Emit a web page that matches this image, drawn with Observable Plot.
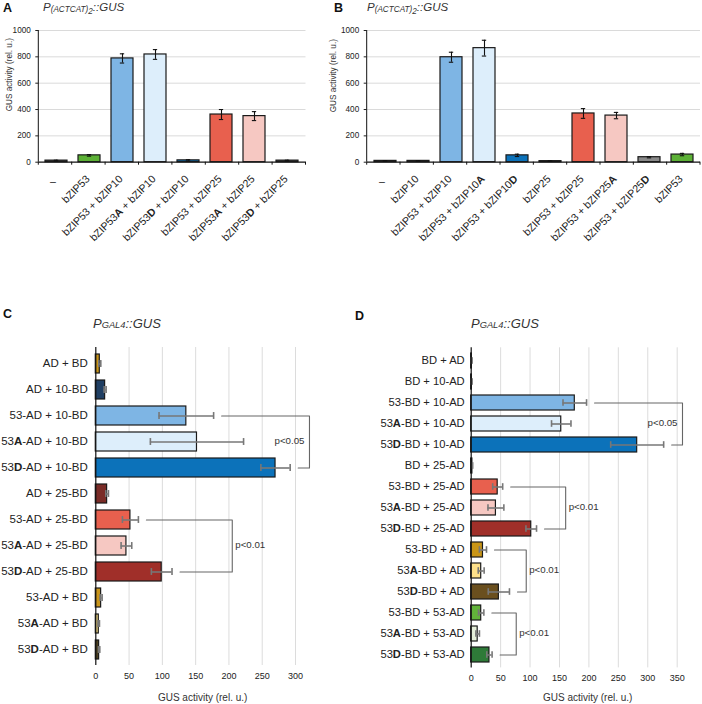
<!DOCTYPE html>
<html>
<head>
<meta charset="utf-8">
<script src="https://cdn.jsdelivr.net/npm/d3@7"></script>
<script src="https://cdn.jsdelivr.net/npm/@observablehq/plot@0.6"></script>
<style>
  html, body { margin: 0; padding: 0; background: #fff; }
  #fig { position: relative; width: 702px; height: 704px; overflow: hidden; font-family: "Liberation Sans", Arial, Helvetica, sans-serif; color: #222; }
  .panel { position: absolute; }
  .letter { position: absolute; font-weight: bold; font-size: 12.5px; line-height: 12.5px; color: #111; }
  .title { position: absolute; font-style: italic; white-space: nowrap; color: #333; }
  .t1 { font-size: 11.5px; line-height: 11.5px; }
  .t1 .s1 { font-size: 8.2px; position: relative; top: 0.5px; }
  .t1 .s2 { font-size: 8.2px; position: relative; top: 2.5px; }
  .t2 { font-size: 13px; line-height: 13px; }
  .t2 .s1 { font-size: 9.3px; }
</style>
</head>
<body>
<div id="fig"></div>
<script>
const FONT = '"Liberation Sans", Arial, Helvetica, sans-serif';

// ---------- Panel A ----------
const catsA = ["–", "bZIP53", "bZIP53 + bZIP10", "bZIP53A + bZIP10", "bZIP53D + bZIP10", "bZIP53 + bZIP25", "bZIP53A + bZIP25", "bZIP53D + bZIP25"];
const valsA = [12, 52, 788, 818, 14, 362, 350, 12];
const errsA = [3, 6, 35, 37, 5, 38, 34, 3];
const fillsA = ["#3a3a3a", "#5cb136", "#7eb5e4", "#ddeefb", "#0c72ba", "#e8604e", "#f6c8c2", "#3a3a3a"];

// ---------- Panel B ----------
const catsB = ["–", "bZIP10", "bZIP53 + bZIP10", "bZIP53 + bZIP10A", "bZIP53 + bZIP10D", "bZIP25", "bZIP53 + bZIP25", "bZIP53 + bZIP25A", "bZIP53 + bZIP25D", "bZIP53"];
const valsB = [10, 10, 797, 866, 52, 8, 370, 354, 38, 58];
const errsB = [2, 2, 38, 60, 9, 2, 37, 24, 5, 9];
const fillsB = ["#3a3a3a", "#3a3a3a", "#7eb5e4", "#ddeefb", "#0c72ba", "#3a3a3a", "#e8604e", "#f6c8c2", "#8a8a8a", "#5cb136"];

const ticksAB = [0, 200, 400, 600, 800, 1000];

// ---------- Panel C ----------
const catsC = ["AD + BD", "AD + 10-BD", "53-AD + 10-BD", "53A-AD + 10-BD", "53D-AD + 10-BD", "AD + 25-BD", "53-AD + 25-BD", "53A-AD + 25-BD", "53D-AD + 25-BD", "53-AD + BD", "53A-AD + BD", "53D-AD + BD"];
const valsC = [6, 14, 136, 152, 270, 17, 52, 46, 99, 8, 4.5, 5];
const errsC = [1.5, 1.5, 41, 70, 22, 2, 12, 8, 15.5, 1.5, 1, 1];
const fillsC = ["#c9951b", "#203f63", "#7eb5e4", "#ddeefb", "#0c72ba", "#7a2c27", "#e8604e", "#f6c8c2", "#a02f29", "#c9951b", "#f4da85", "#4e4121"];
const ticksC = [0, 50, 100, 150, 200, 250, 300];
const bracketsC = [
  { from: "53-AD + 10-BD", to: "53D-AD + 10-BD", x: 321, label: "p<0.05" },
  { from: "53-AD + 25-BD", to: "53D-AD + 25-BD", x: 205, label: "p<0.01" }
];

// ---------- Panel D ----------
const catsD = ["BD + AD", "BD + 10-AD", "53-BD + 10-AD", "53A-BD + 10-AD", "53D-BD + 10-AD", "BD + 25-AD", "53-BD + 25-AD", "53A-BD + 25-AD", "53D-BD + 25-AD", "53-BD + AD", "53A-BD + AD", "53D-BD + AD", "53-BD + 53-AD", "53A-BD + 53-AD", "53D-BD + 53-AD"];
const valsD = [1, 1, 176, 153, 282, 2, 45, 42, 102, 20, 17, 47, 17, 11, 31];
const errsD = [0.5, 0.5, 20, 16.5, 45, 0.5, 8.5, 13.5, 9, 6, 5, 18, 4.5, 3, 4.5];
const fillsD = ["#333333", "#333333", "#7eb5e4", "#ddeefb", "#0c72ba", "#333333", "#e8604e", "#f6c8c2", "#a02f29", "#c99516", "#fde08a", "#6a4f1e", "#62b43a", "#e5efd9", "#2e7a38"];
const ticksD = [0, 50, 100, 150, 200, 250, 300, 350];
const bracketsD = [
  { from: "53-BD + 10-AD", to: "53D-BD + 10-AD", x: 359, label: "p<0.05" },
  { from: "53-BD + 25-AD", to: "53D-BD + 25-AD", x: 160.5, label: "p<0.01" },
  { from: "53-BD + AD", to: "53D-BD + AD", x: 93.5, label: "p<0.01" },
  { from: "53-BD + 53-AD", to: "53D-BD + 53-AD", x: 76.5, label: "p<0.01" }
];

const YLABEL = "GUS activity (rel. u.)";
const NS = "http://www.w3.org/2000/svg";

// Left axis line + category-boundary ticks for the column charts
function frameTicks(n, len) {
  return (index, scales, values, dims) => {
    const g = document.createElementNS(NS, "g");
    const x0 = dims.marginLeft, x1 = dims.width - dims.marginRight;
    const yb = dims.height - dims.marginBottom, yt = dims.marginTop;
    const mk = (a, b, c, d) => {
      const l = document.createElementNS(NS, "line");
      l.setAttribute("x1", a); l.setAttribute("y1", b); l.setAttribute("x2", c); l.setAttribute("y2", d);
      l.setAttribute("stroke", "#111"); l.setAttribute("stroke-width", "1");
      g.appendChild(l);
    };
    mk(x0, yt, x0, yb);
    for (let i = 0; i <= n; i++) {
      const x = x0 + (x1 - x0) * i / n;
      mk(x, yb, x, yb + len);
    }
    return g;
  };
}

function boldify(svg) {
  const re = /^(.*\d)([AD])((?:[\s-].*)?)$/;
  svg.querySelectorAll("text, tspan").forEach(el => {
    if (el.childNodes.length !== 1 || el.firstChild.nodeType !== 3) return;
    const m = el.textContent.match(re);
    if (!m) return;
    el.textContent = "";
    const a = document.createElementNS(NS, "tspan"); a.textContent = m[1];
    const b = document.createElementNS(NS, "tspan"); b.textContent = m[2]; b.setAttribute("font-weight", "bold");
    const c = document.createElementNS(NS, "tspan"); c.textContent = m[3];
    el.append(a, b, c);
  });
  return svg;
}

// The dash category label is drawn horizontally in the reference
function unrotateDash(svg) {
  svg.querySelectorAll("text").forEach(el => {
    if (el.textContent !== "–") return;
    const r0 = el.getBoundingClientRect();
    const t = el.getAttribute("transform") || "";
    el.setAttribute("transform", t.replace(/rotate\([^)]*\)/, ""));
    el.setAttribute("text-anchor", "middle");
    const r1 = el.getBoundingClientRect();
    const ddx = (r0.left + r0.right) / 2 - (r1.left + r1.right) / 2 + 0.5;
    const ddy = (r0.top + r0.bottom) / 2 - (r1.top + r1.bottom) / 2 + 2;
    el.setAttribute("transform", `translate(${ddx},${ddy}) ` + el.getAttribute("transform"));
  });
}

function columnChart({ cats, vals, errs, fills, width, marginLeft, marginRight, labelDx, labelDy }) {
  const data = cats.map((c, i) => ({ c, v: vals[i], e: errs[i], f: fills[i] }));
  const height = 250, marginTop = 30, marginBottom = 88.3, pad = 0.32;
  const step = (width - marginLeft - marginRight) / cats.length;
  const bw = step * (1 - pad), cap = 5, ins = (bw - cap) / 2;
  const svg = Plot.plot({
    width, height, marginLeft, marginRight, marginTop, marginBottom,
    style: { fontFamily: FONT, background: "transparent", overflow: "visible", color: "#222", maxWidth: "none" },
    x: { domain: cats, paddingInner: pad, paddingOuter: pad / 2 },
    y: { domain: [0, 1000] },
    color: { type: "identity" },
    marks: [
      Plot.ruleY(ticksAB.slice(1), { stroke: "#dadada", strokeWidth: 1 }),
      Plot.barY(data, { x: "c", y: "v", fill: "f", stroke: "#1a1a1a", strokeWidth: 1.2 }),
      Plot.ruleX(data, { x: "c", y1: d => d.v - d.e, y2: d => d.v + d.e, stroke: "#111", strokeWidth: 1.1 }),
      Plot.tickY(data, { x: "c", y: d => d.v + d.e, insetLeft: ins, insetRight: ins, stroke: "#111", strokeWidth: 1.1 }),
      Plot.tickY(data, { x: "c", y: d => d.v - d.e, insetLeft: ins, insetRight: ins, stroke: "#111", strokeWidth: 1.1 }),
      Plot.ruleY([0], { stroke: "#111", strokeWidth: 1.2 }),
      frameTicks(cats.length, 3),
      Plot.axisY({ ticks: ticksAB, tickFormat: d => String(d), tickSize: 3, tickPadding: 5, fontSize: 8.2, label: null }),
      Plot.axisX({ tickRotate: -45, tickSize: 0, tickPadding: 5, fontSize: 10.6, label: null, dx: -1.5, dy: 10 }),
      Plot.text([YLABEL], { frameAnchor: "left", rotate: -90, dx: labelDx, dy: labelDy, fontSize: 8.2, fill: "#333" })
    ]
  });
  return boldify(svg);
}

function barChart({ cats, vals, errs, fills, ticks, brackets, width, height, marginLeft, marginRight, marginTop, marginBottom, labelFont, tickPad, xlDx, xlDy }) {
  const data = cats.map((c, i) => ({ c, v: vals[i], e: errs[i], f: fills[i] }));
  const pad = 0.28;
  const xmax = ticks[ticks.length - 1];
  const innerW = width - marginLeft - marginRight;
  const stepY = (height - marginTop - marginBottom) / cats.length;
  const bh = stepY * (1 - pad), cap = 7, ins = (bh - cap) / 2;
  const gap = 8 * xmax / innerW;
  const byCat = new Map(data.map(d => [d.c, d]));
  const pts = [];
  const labs = [];
  brackets.forEach((b, i) => {
    const t = byCat.get(b.from), u = byCat.get(b.to);
    pts.push({ id: i, x: t.v + t.e + gap, y: b.from }, { id: i, x: b.x, y: b.from }, { id: i, x: b.x, y: b.to }, { id: i, x: u.v + u.e + gap, y: b.to });
    const mid = cats[Math.round((cats.indexOf(b.from) + cats.indexOf(b.to)) / 2)];
    labs.push({ x: b.x, y: mid, label: b.label, left: b.x > xmax });
  });
  const svg = Plot.plot({
    width, height, marginLeft, marginRight, marginTop, marginBottom,
    style: { fontFamily: FONT, background: "transparent", overflow: "visible", color: "#222", maxWidth: "none" },
    x: { domain: [0, xmax] },
    y: { domain: cats, paddingInner: pad, paddingOuter: pad / 2 },
    color: { type: "identity" },
    marks: [
      Plot.ruleX(ticks.slice(1), { stroke: "#dcdcdc", strokeWidth: 1 }),
      Plot.barX(data, { y: "c", x: "v", fill: "f", stroke: "#1a1a1a", strokeWidth: 1.2 }),
      Plot.ruleY(data, { y: "c", x1: d => d.v - d.e, x2: d => d.v + d.e, stroke: "#777", strokeWidth: 1.6 }),
      Plot.tickX(data, { y: "c", x: d => d.v - d.e, insetTop: ins, insetBottom: ins, stroke: "#777", strokeWidth: 1.6 }),
      Plot.tickX(data, { y: "c", x: d => d.v + d.e, insetTop: ins, insetBottom: ins, stroke: "#777", strokeWidth: 1.6 }),
      Plot.ruleX([0], { stroke: "#111", strokeWidth: 1.2 }),
      Plot.line(pts, { x: "x", y: "y", z: "id", stroke: "#666", strokeWidth: 1.1 }),
      Plot.text(labs.filter(d => d.left), { x: "x", y: "y", text: "label", textAnchor: "end", dx: -5, dy: -1, fontSize: 9.7, fill: "#333" }),
      Plot.text(labs.filter(d => !d.left), { x: "x", y: "y", text: "label", textAnchor: "start", dx: 3, dy: -1, fontSize: 9.7, fill: "#333" }),
      Plot.axisY({ tickSize: 0, tickPadding: tickPad, fontSize: labelFont, label: null, dy: -1 }),
      Plot.axisX({ ticks, tickFormat: d => String(d), tickSize: 0, tickPadding: 7, fontSize: 9, label: null }),
      Plot.text([YLABEL], { frameAnchor: "bottom", lineAnchor: "middle", dx: xlDx, dy: xlDy, fontSize: 10, fill: "#333" })
    ]
  });
  return boldify(svg);
}

const fig = document.getElementById("fig");
function place(node, left, top) {
  const d = document.createElement("div");
  d.className = "panel";
  d.style.left = left + "px";
  d.style.top = top + "px";
  d.appendChild(node);
  fig.appendChild(d);
  return node;
}
function html(cls, left, top, content) {
  const d = document.createElement("div");
  d.className = cls;
  d.style.left = left + "px";
  d.style.top = top + "px";
  d.innerHTML = content;
  fig.appendChild(d);
}

const sA = place(columnChart({ cats: catsA, vals: valsA, errs: errsA, fills: fillsA, width: 350, marginLeft: 38.3, marginRight: 44.5, labelDx: -29, labelDy: 15 }), 0, 0);
const sB = place(columnChart({ cats: catsB, vals: valsB, errs: errsB, fills: fillsB, width: 380, marginLeft: 44.7, marginRight: 2, labelDx: -34, labelDy: 16 }), 322, 0);
unrotateDash(sA);
unrotateDash(sB);
place(barChart({ cats: catsC, vals: valsC, errs: errsC, fills: fillsC, ticks: ticksC, brackets: bracketsC, width: 350, height: 404, marginLeft: 95.3, marginRight: 55, marginTop: 47, marginBottom: 39, labelFont: 11.5, tickPad: 8, xlDx: 7, xlDy: 32.7 }), 0, 300);
place(barChart({ cats: catsD, vals: valsD, errs: errsD, fills: fillsD, ticks: ticksD, brackets: bracketsD, width: 352, height: 404, marginLeft: 120.7, marginRight: 25.3, marginTop: 47.3, marginBottom: 36.6, labelFont: 11.2, tickPad: 6.5, xlDx: 13.5, xlDy: 30.3 }), 350, 300);

html("letter", 3, 2.4, "A");
html("letter", 334, 2.4, "B");
html("letter", 3, 307.5, "C");
html("letter", 355, 309.5, "D");
const titleAB = 'P<span class="s1">(ACTCAT)</span><span class="s2">2</span>::GUS';
const titleCD = 'P<span class="s1">GAL4</span>::GUS';
html("title t1", 43, 2.3, titleAB);
html("title t1", 367, 2.3, titleAB);
html("title t2", 93, 317, titleCD);
html("title t2", 471, 317, titleCD);
</script>
</body>
</html>
